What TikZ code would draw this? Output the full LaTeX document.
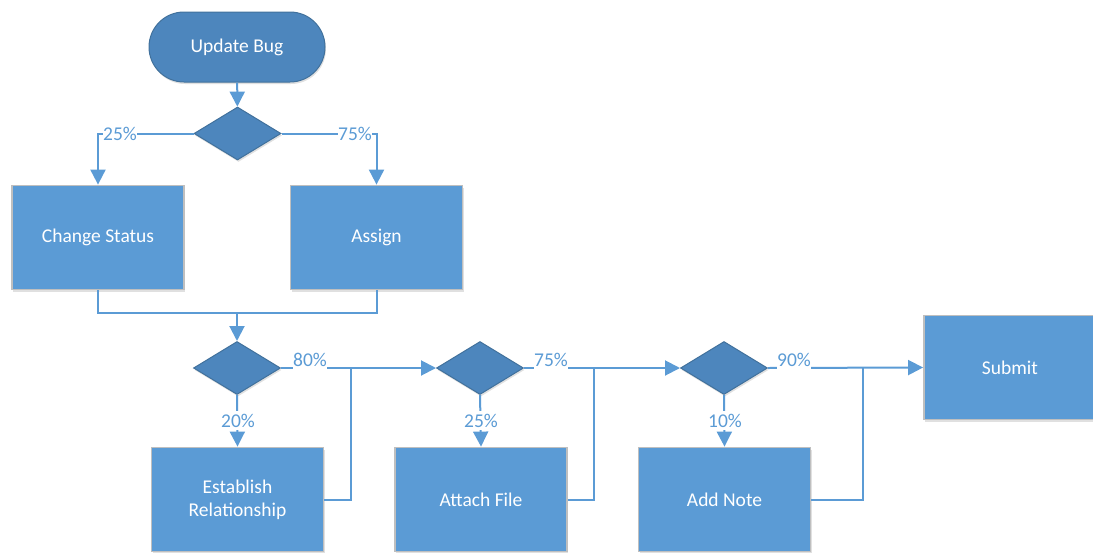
\documentclass[tikz,border=0pt]{standalone}
\usepackage{fontspec}
\setmainfont{Carlito}
\usetikzlibrary{arrows.meta,shapes.geometric,shadows}

\definecolor{boxblue}{HTML}{5B9BD5}
\definecolor{boxedge}{HTML}{BFBFBF}
\definecolor{decblue}{HTML}{4D86BD}
\definecolor{decedge}{HTML}{41719C}
\definecolor{wire}{HTML}{5B9BD5}

\tikzset{
  soft/.style={drop shadow={shadow xshift=1pt,shadow yshift=-2pt,fill=black,opacity=0.12}},
  stepbox/.style={rectangle,soft,fill=boxblue,draw=boxedge,line width=1.8pt,
    minimum width=172pt,minimum height=104pt,inner sep=0pt,text=white,
    font=\fontsize{19.5}{23}\selectfont,align=center},
  decision/.style={diamond,soft,fill=decblue,draw=decedge,line width=1pt,
    minimum width=87pt,minimum height=53pt,inner sep=0pt,aspect=1.6},
  terminal/.style={rectangle,soft,rounded corners=35pt,fill=decblue,draw=decedge,
    line width=1pt,minimum width=176pt,minimum height=70pt,text=white,
    font=\fontsize{19.5}{23}\selectfont},
  wireline/.style={draw=wire,line width=2pt},
  flow/.style={wireline,-{Triangle[length=15pt,width=15pt]}},
  pct/.style={fill=white,text=wire,inner xsep=0.5pt,inner ysep=3pt,anchor=base,
    text depth=0pt,font=\fontsize{19.5}{23}\selectfont},
}

\begin{document}
\begin{tikzpicture}[x=1pt,y=-1pt]
\useasboundingbox (0,0) rectangle (1093,552);

% shapes
\node[terminal] (ub) at (237,47) {Update Bug};
\node[decision] (d1) at (237.5,133.5) {};
\node[stepbox] (cs) at (98,237.5) {Change Status};
\node[stepbox] (as) at (376.5,237.5) {Assign};
\node[decision] (d2) at (237,368) {};
\node[decision] (d3) at (480,368) {};
\node[decision] (d4) at (724,368) {};
\node[stepbox] (eb) at (237.5,499.5) {Establish\\Relationship};
\node[stepbox] (af) at (481,499.5) {Attach File};
\node[stepbox] (an) at (724.5,499.5) {Add Note};
\node[stepbox] (sb) at (1010,367.5) {Submit};

% junction points
\coordinate (j1) at (237,313);
\coordinate (j2) at (351,368);
\coordinate (j3) at (594,368);
\coordinate (j4) at (863,368);

% connectors
\draw[flow] (ub) -- (d1);
\draw[flow] (d1.west) -| (cs.north);
\draw[flow] (d1.east) -| (as.north);
\draw[wireline] (cs.south) |- (j1) -| (as.south);
\draw[flow] (j1) -- (d2.north);
\draw[flow] (d2.south) -- (eb.north);
\draw[flow] (d2.east) -- (d3.west);
\draw[wireline] (eb.east) -| (j2);
\draw[flow] (d3.south) -- (af.north);
\draw[flow] (d3.east) -- (d4.west);
\draw[wireline] (af.east) -| (j3);
\draw[flow] (d4.south) -- (an.north);
\draw[flow] (d4.east) -- (sb.west);
\draw[wireline] (an.east) -| (j4);

% branch labels
\node[pct] (p1) at (120,140) {25\%};
\node[pct] (p2) at (355,140) {75\%};
\node[pct] (p3) at (238,427) {20\%};
\node[pct] (p4) at (310,366) {80\%};
\node[pct] (p5) at (481,427) {25\%};
\node[pct] (p6) at (551,366) {75\%};
\node[pct] (p7) at (725,427) {10\%};
\node[pct] (p8) at (794,366) {90\%};
\end{tikzpicture}
\end{document}
